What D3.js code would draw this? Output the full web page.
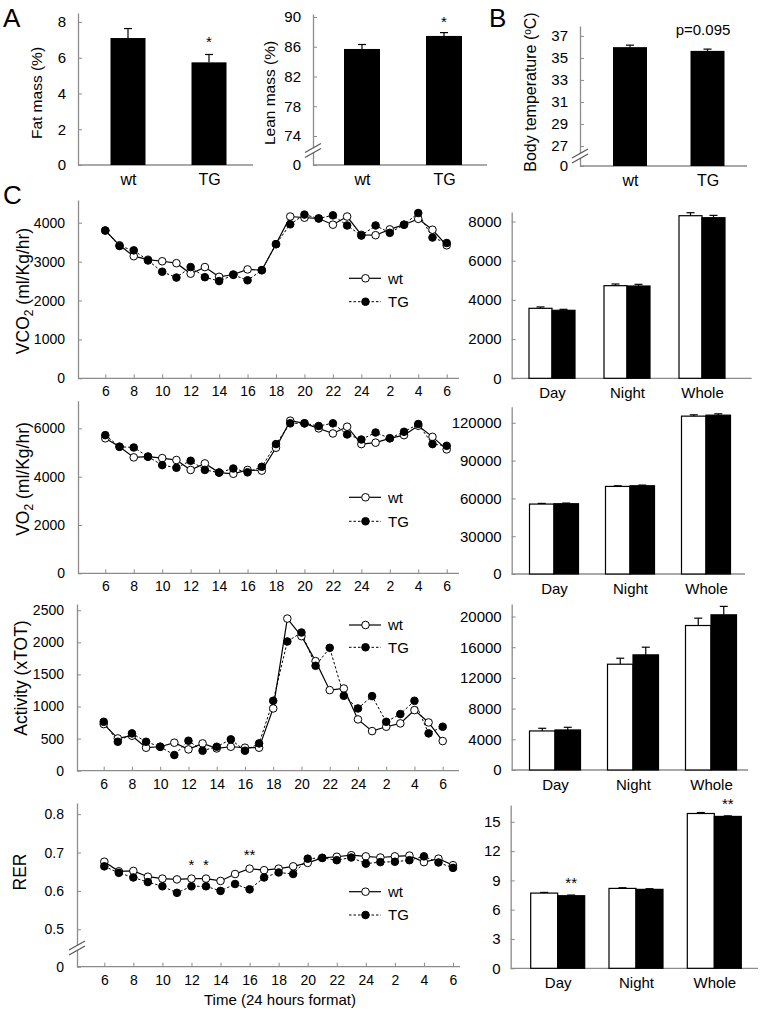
<!DOCTYPE html>
<html>
<head>
<meta charset="utf-8">
<script src="https://cdn.jsdelivr.net/npm/d3@7"></script>
<style>
body { margin: 0; background: #fff; }
svg { font-family: "Liberation Sans", Arial, Helvetica, sans-serif; }
</style>
</head>
<body>
<svg id="fig" width="762" height="1014"></svg>
<script>
// ---- data ----
var groups = ['wt', 'TG'];
var fatMass = [7.1, 5.74], fatErr = [0.53, 0.44];
var leanMass = [85.7, 87.45], leanErr = [0.6, 0.45];
var bodyTemp = [35.98, 35.64], bodyErr = [0.18, 0.16];

// hourly points from 6:00 to 6:00 the next day
var hourLabels = ['6', '8', '10', '12', '14', '16', '18', '20', '22', '24', '2', '4', '6'];
var vco2Wt = [3800, 3420, 3140, 3050, 3010, 2960, 2690, 2860, 2610, 2670, 2800, 2780, 3450, 4160, 4130, 4110, 3950, 4160, 3690, 3680, 3830, 3950, 4100, 3820, 3420];
var vco2Tg = [3800, 3400, 3290, 3030, 2740, 2590, 2860, 2600, 2500, 2660, 2520, 2780, 3450, 3960, 4210, 4110, 4190, 3930, 3670, 3930, 3740, 3950, 4250, 3620, 3480];
var vo2Wt = [5590, 5240, 4800, 4830, 4770, 4690, 4280, 4550, 4170, 4120, 4280, 4250, 5200, 6320, 6210, 6000, 5790, 6070, 5350, 5410, 5590, 5720, 6110, 5650, 5130];
var vo2Tg = [5720, 5240, 5210, 4830, 4480, 4370, 4660, 4280, 4170, 4340, 4180, 4410, 5350, 6210, 6210, 6100, 6210, 5750, 5540, 5830, 5590, 5860, 6180, 5350, 5280];
var actWt = [726, 503, 545, 358, 373, 436, 332, 425, 347, 373, 358, 358, 970, 2370, 2096, 1707, 1255, 1281, 799, 617, 685, 737, 944, 752, 462];
var actTg = [762, 451, 581, 451, 373, 244, 467, 311, 373, 488, 311, 425, 1089, 2013, 2153, 1634, 1914, 1167, 970, 1162, 762, 882, 1089, 581, 685];
var rerWt = [0.676, 0.651, 0.652, 0.637, 0.632, 0.630, 0.632, 0.632, 0.626, 0.644, 0.658, 0.654, 0.658, 0.664, 0.673, 0.686, 0.689, 0.693, 0.690, 0.687, 0.690, 0.692, 0.675, 0.684, 0.667];
var rerTg = [0.664, 0.647, 0.635, 0.623, 0.612, 0.595, 0.612, 0.612, 0.600, 0.618, 0.604, 0.635, 0.648, 0.644, 0.684, 0.686, 0.680, 0.687, 0.671, 0.675, 0.676, 0.680, 0.690, 0.674, 0.660];
var rerStars = [[6, '*'], [7, '*'], [10, '**']];

var periods = ['Day', 'Night', 'Whole'];
var vco2BarWt = [3571, 4726, 8296], vco2BarWtErr = [69, 85, 153];
var vco2BarTg = [3469, 4709, 8194], vco2BarTgErr = [51, 85, 119];
var vo2BarWt = [55500, 69500, 125280], vo2BarWtErr = [530, 540, 1060];
var vo2BarTg = [55770, 70040, 126070], vo2BarTgErr = [530, 530, 1060];
var actBarWt = [5087, 13783, 18826], actBarWtErr = [348, 782, 957];
var actBarTg = [5217, 15000, 20217], actBarTgErr = [348, 1000, 1100];
var rerBarWt = [7.70, 8.18, 15.85], rerBarWtErr = [0.07, 0.07, 0.10];
var rerBarTg = [7.43, 8.08, 15.55], rerBarTgErr = [0.07, 0.07, 0.06];
var rerBarStars = [['Day', '**'], ['Whole', '**']];

// ---- drawing ----
var svg = d3.select('#fig');
var GRAY = '#8c8c8c';

function yAxis(ax, y, ticks, pad, size) {
    var a = svg.append('g')
        .attr('transform', 'translate(' + ax + ',0)')
        .call(d3.axisLeft(y).tickValues(ticks).tickSizeInner(-4).tickSizeOuter(0)
            .tickPadding(pad).tickFormat(d3.format('')));
    a.select('.domain').attr('stroke', GRAY).attr('stroke-width', 1.3);
    a.selectAll('.tick line').attr('stroke', GRAY);
    a.selectAll('text').attr('font-size', size).attr('fill', '#000').attr('font-family', null);
}

function xLine(ax, x1, y0) {
    svg.append('line')
        .attr('x1', ax).attr('x2', x1).attr('y1', y0).attr('y2', y0)
        .attr('stroke', GRAY).attr('stroke-width', 1.3);
}

function catLabels(x, y0, pad, size) {
    var a = svg.append('g')
        .attr('transform', 'translate(0,' + y0 + ')')
        .call(d3.axisBottom(x).tickSize(0).tickPadding(pad));
    a.select('.domain').remove();
    a.selectAll('text').attr('font-size', size).attr('fill', '#000').attr('font-family', null);
}

function axisBreak(ax, yc) {
    var dx = 8, dy = 4.5, g = 2.5;
    svg.append('polygon')
        .attr('points', [[ax - dx, yc + dy - g], [ax + dx, yc - dy - g], [ax + dx, yc - dy + g], [ax - dx, yc + dy + g]].join(' '))
        .attr('fill', '#fff');
    [-g, g].forEach(function (o) {
        svg.append('line')
            .attr('x1', ax - dx).attr('y1', yc + dy + o)
            .attr('x2', ax + dx).attr('y2', yc - dy + o)
            .attr('stroke', '#555').attr('stroke-width', 1.2);
    });
}

function errBar(cx, y, v, e) {
    svg.append('line').attr('x1', cx).attr('x2', cx).attr('y1', y(v)).attr('y2', y(v + e))
        .attr('stroke', '#000').attr('stroke-width', 1.2);
    svg.append('line').attr('x1', cx - 4).attr('x2', cx + 4).attr('y1', y(v + e)).attr('y2', y(v + e))
        .attr('stroke', '#000').attr('stroke-width', 1.2);
}

function yTitle(cx, cy, size, parts) {
    var t = svg.append('text')
        .attr('transform', 'translate(' + cx + ',' + cy + ') rotate(-90)')
        .attr('text-anchor', 'middle').attr('dy', '0.35em').attr('font-size', size);
    parts.forEach(function (p) {
        var s = t.append('tspan').text(p[0]);
        if (p[1]) s.attr('dy', p[1]);
        if (p[2]) s.attr('font-size', p[2]);
    });
}

function simpleBars(L, vals, errs, ticks, star) {
    var x = d3.scalePoint().domain(groups).range(L.cx);
    yAxis(L.ax, L.y, ticks, 12, 15);
    xLine(L.ax, L.x1, L.y(0));
    if (L.brk) axisBreak(L.ax, (L.y(0) + L.y(ticks[1])) / 2);
    groups.forEach(function (gname, i) {
        svg.append('rect')
            .attr('x', x(gname) - L.bw / 2).attr('width', L.bw)
            .attr('y', L.y(vals[i])).attr('height', L.y(0) - L.y(vals[i]))
            .attr('fill', '#000');
        errBar(x(gname), L.y, vals[i], errs[i]);
    });
    catLabels(x, L.y(0), 9, 16);
    if (star) {
        svg.append('text')
            .attr('x', x(star[0])).attr('y', L.y(vals[1] + errs[1]) - star[2])
            .attr('text-anchor', 'middle').attr('font-size', 15).text(star[1]);
    }
}

function lineChart(L, wt, tg, ticks, stars) {
    yAxis(L.ax, L.y, ticks, 13, 14);
    xLine(L.ax, L.x1, L.y(0));
    if (L.brk) axisBreak(L.ax, (L.y(0) + L.y(ticks[1])) / 2);
    var xa = svg.append('g')
        .attr('transform', 'translate(0,' + L.y(0) + ')')
        .call(d3.axisBottom(L.x).tickValues(d3.range(0, 25, 2))
            .tickFormat(function (d, i) { return hourLabels[i]; })
            .tickSizeInner(-4).tickSizeOuter(0).tickPadding(8));
    xa.select('.domain').remove();
    xa.selectAll('.tick line').attr('stroke', GRAY);
    xa.selectAll('text').attr('font-size', 14).attr('fill', '#000').attr('font-family', null);

    var line = d3.line().x(function (d, i) { return L.x(i); }).y(function (d) { return L.y(d); });
    svg.append('path').datum(wt).attr('d', line)
        .attr('fill', 'none').attr('stroke', '#000').attr('stroke-width', 1.2);
    svg.append('path').datum(tg).attr('d', line)
        .attr('fill', 'none').attr('stroke', '#000').attr('stroke-width', 1).attr('stroke-dasharray', '2.5,2');
    [[wt, '#fff'], [tg, '#000']].forEach(function (s) {
        svg.append('g').selectAll('circle').data(s[0]).join('circle')
            .attr('cx', function (d, i) { return L.x(i); })
            .attr('cy', function (d) { return L.y(d); })
            .attr('r', 3.8).attr('fill', s[1]).attr('stroke', '#000').attr('stroke-width', 1);
    });

    // legend
    [['wt', '#fff', null, L.leg[0]], ['TG', '#000', '2.5,2', L.leg[1]]].forEach(function (s) {
        svg.append('line').attr('x1', 349).attr('x2', 381).attr('y1', s[3]).attr('y2', s[3])
            .attr('stroke', '#000').attr('stroke-width', s[2] ? 1 : 1.2).attr('stroke-dasharray', s[2]);
        svg.append('circle').attr('cx', 365.5).attr('cy', s[3]).attr('r', 3.8)
            .attr('fill', s[1]).attr('stroke', '#000');
        svg.append('text').attr('x', 388).attr('y', s[3]).attr('dy', '0.35em')
            .attr('font-size', 15).text(s[0]);
    });

    if (stars) {
        stars.forEach(function (s) {
            svg.append('text').attr('x', L.x(s[0])).attr('y', L.y(wt[s[0]]) - 9)
                .attr('text-anchor', 'middle').attr('font-size', 15).text(s[1]);
        });
    }
}

function groupBars(L, wt, wtErr, tg, tgErr, ticks, stars) {
    var x = d3.scalePoint().domain(periods).range(L.cx);
    var sub = d3.scaleBand().domain(groups).range([-L.bw, L.bw]);
    yAxis(L.ax, L.y, ticks, 10, 15);
    xLine(L.ax, L.x1, L.y(0));
    periods.forEach(function (p, i) {
        [[wt, wtErr, 'wt', '#fff'], [tg, tgErr, 'TG', '#000']].forEach(function (s) {
            var x0 = x(p) + sub(s[2]);
            svg.append('rect')
                .attr('x', x0).attr('width', sub.bandwidth())
                .attr('y', L.y(s[0][i])).attr('height', L.y(0) - L.y(s[0][i]))
                .attr('fill', s[3]).attr('stroke', '#000').attr('stroke-width', 1.2);
            errBar(x0 + sub.bandwidth() / 2, L.y, s[0][i], s[1][i]);
        });
    });
    catLabels(x, L.y(0), 9, 15);
    if (stars) {
        stars.forEach(function (s) {
            var i = periods.indexOf(s[0]);
            svg.append('text')
                .attr('x', x(s[0]) + sub('TG') + sub.bandwidth() / 2)
                .attr('y', L.y(tg[i] + tgErr[i]) - 7)
                .attr('text-anchor', 'middle').attr('font-size', 15).text(s[1]);
        });
    }
}

// panel letters
[['A', 3, 27], ['B', 489, 27], ['C', 3, 204]].forEach(function (p) {
    svg.append('text').attr('x', p[1]).attr('y', p[2]).attr('font-size', 26).text(p[0]);
});

// ---- A / B ----
simpleBars({ ax: 78, x1: 253, cx: [128, 209], bw: 35,
    y: d3.scaleLinear().domain([0, 8.5]).range([165, 13]) },
    fatMass, fatErr, [0, 2, 4, 6, 8], ['TG', '*', 7]);
yTitle(37, 93, 15.5, [['Fat mass (%)']]);

simpleBars({ ax: 313, x1: 487, cx: [362, 444], bw: 36, brk: true,
    y: d3.scaleLinear().domain([0, 74, 90.4]).range([165, 136, 14]) },
    leanMass, leanErr, [0, 74, 78, 82, 86, 90], ['TG', '*', 6]);
yTitle(270, 93, 15.5, [['Lean mass (%)']]);

var bodyY = d3.scaleLinear().domain([0, 27, 37.9]).range([166, 146, 26]);
simpleBars({ ax: 580, x1: 747, cx: [630, 707.5], bw: 34, brk: true, y: bodyY },
    bodyTemp, bodyErr, [0, 27, 29, 31, 33, 35, 37]);
yTitle(530, 92, 16, [['Body temperature ('], ['o', -5, 10], ['C)', 5, 16]]);
svg.append('text').attr('x', 703).attr('y', bodyY(bodyTemp[1] + bodyErr[1]) - 14.5)
    .attr('text-anchor', 'middle').attr('font-size', 15).text('p=0.095');

// ---- C: time courses ----
lineChart({ ax: 78, x1: 459, leg: [278.3, 301.7],
    x: d3.scaleLinear().domain([0, 24]).range([105.3, 446.7]),
    y: d3.scaleLinear().domain([0, 4585]).range([378.3, 200]) },
    vco2Wt, vco2Tg, [0, 1000, 2000, 3000, 4000]);
yTitle(23, 291, 17.5, [['VCO'], ['2', 4, 12], [' (ml/Kg/hr)', -4, 17.5]]);

lineChart({ ax: 78, x1: 459, leg: [497.3, 521.3],
    x: d3.scaleLinear().domain([0, 24]).range([105.3, 446.7]),
    y: d3.scaleLinear().domain([0, 7147]).range([573.3, 400.7]) },
    vo2Wt, vo2Tg, [0, 2000, 4000, 6000]);
yTitle(23, 479, 17.5, [['VO'], ['2', 4, 12], [' (ml/Kg/hr)', -4, 17.5]]);

lineChart({ ax: 77, x1: 459, leg: [625, 647.3],
    x: d3.scaleLinear().domain([0, 24]).range([103.7, 442.7]),
    y: d3.scaleLinear().domain([0, 2597]).range([770.7, 604]) },
    actWt, actTg, [0, 500, 1000, 1500, 2000, 2500]);
yTitle(21, 678, 17.5, [['Activity (xTOT)']]);

lineChart({ ax: 77, x1: 460, leg: [891.7, 915], brk: true,
    x: d3.scaleLinear().domain([0, 24]).range([104.3, 453]),
    y: d3.scaleLinear().domain([0, 0.5, 0.829]).range([966.7, 929.3, 803]) },
    rerWt, rerTg, [0, 0.5, 0.6, 0.7, 0.8], rerStars);
yTitle(20, 872, 17.5, [['RER']]);
svg.append('text').attr('x', 280).attr('y', 1005).attr('text-anchor', 'middle')
    .attr('font-size', 15).text('Time (24 hours format)');

// ---- C: period summaries ----
groupBars({ ax: 511.7, x1: 751.7, cx: [552, 702], bw: 23,
    y: d3.scaleLinear().domain([0, 8485]).range([378.3, 212]) },
    vco2BarWt, vco2BarWtErr, vco2BarTg, vco2BarTgErr, [0, 2000, 4000, 6000, 8000]);

groupBars({ ax: 511.7, x1: 745, cx: [554, 706], bw: 24.5,
    y: d3.scaleLinear().domain([0, 132780]).range([574, 406.7]) },
    vo2BarWt, vo2BarWtErr, vo2BarTg, vo2BarTgErr, [0, 30000, 60000, 90000, 120000]);

groupBars({ ax: 511.7, x1: 748, cx: [555, 711], bw: 25.5,
    y: d3.scaleLinear().domain([0, 21629]).range([770, 604]) },
    actBarWt, actBarWtErr, actBarTg, actBarTgErr, [0, 4000, 8000, 12000, 16000, 20000]);

groupBars({ ax: 510.7, x1: 758, cx: [557.7, 714.3], bw: 27,
    y: d3.scaleLinear().domain([0, 16.72]).range([968.3, 805]) },
    rerBarWt, rerBarWtErr, rerBarTg, rerBarTgErr, [0, 3, 6, 9, 12, 15], rerBarStars);
</script>
</body>
</html>
